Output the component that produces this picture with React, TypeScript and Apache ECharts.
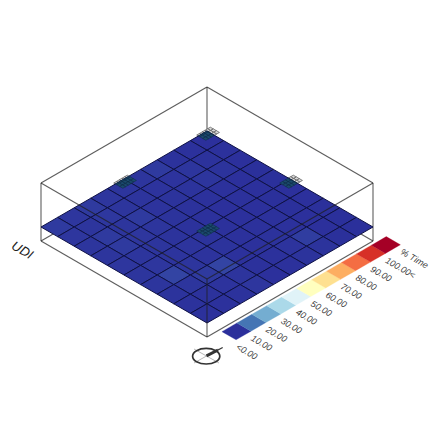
import React, { useEffect, useRef } from "react";
import * as echarts from "echarts";

// Plane results, % Time: rows run along j, columns along i (10 x 10 analysis grid)
const planeValues: number[][] = [
  [0.2, 0.3, 0.2, 0.1, 0.1, 0.2, 0.2, 0.1, 0.1, 0.1],
  [0.3, 0.4, 0.5, 0.2, 0.2, 0.1, 0.1, 0.2, 0.2, 0.1],
  [0.4, 0.9, 0.8, 0.3, 0.3, 0.2, 0.3, 0.3, 2.0, 0.5],
  [1.5, 0.6, 0.5, 0.3, 0.2, 0.2, 0.3, 0.4, 0.6, 0.5],
  [0.8, 0.6, 0.5, 0.4, 0.3, 0.3, 0.3, 0.3, 0.3, 0.3],
  [0.8, 0.7, 0.6, 0.5, 0.4, 0.5, 0.5, 0.3, 0.3, 0.2],
  [1.0, 0.9, 1.5, 0.8, 0.5, 0.7, 0.6, 3.0, 0.7, 1.0],
  [1.5, 1.2, 0.8, 1.0, 0.8, 0.7, 0.8, 1.5, 0.6, 0.4],
  [1.0, 0.9, 1.5, 1.5, 0.8, 1.0, 3.0, 0.9, 0.4, 0.3],
  [1.5, 1.0, 0.9, 0.8, 1.0, 0.9, 0.8, 0.5, 0.4, 0.3],
];
const colorStops = ["#2b2f9b", "#4575b4", "#74add1", "#abd9e9", "#e0f3f8", "#ffffbf", "#fee090", "#fdae61", "#f46d43", "#d73027", "#a50026"];
const legendValues = [0, 10, 20, 30, 40, 50, 60, 70, 80, 90, 100];
const legendLabels = ["<0.00", "10.00", "20.00", "30.00", "40.00", "50.00", "60.00", "70.00", "80.00", "90.00", "100.00<", "% Time"];
const sensors: number[][] = [[0, 0], [5, 0], [0, 5], [5, 5]];
const BOT = -1.46;
const TOP = 4.58;
const backEdges: number[][] = [
  [0, 0, BOT, 10, 0, BOT], [0, 0, BOT, 0, 10, BOT], [0, 0, BOT, 0, 0, TOP],
  [0, 10, BOT, 0, 10, TOP], [10, 0, BOT, 10, 0, TOP],
  [0, 0, TOP, 10, 0, TOP], [0, 0, TOP, 0, 10, TOP],
];
const frontEdges: number[][] = [
  [0, 10, TOP, 10, 10, TOP], [10, 0, TOP, 10, 10, TOP],
  [0, 10, BOT, 10, 10, BOT], [10, 0, BOT, 10, 10, BOT], [10, 10, BOT, 10, 10, TOP],
];

const cellData: number[][] = [];
planeValues.forEach((row, j) => row.forEach((v, i) => cellData.push([i, j, v])));
const legendData = legendValues.map((v, k) => [k, 0, v]);
const labelData = legendLabels.map((_, k) => [k]);

const LINE = "rgba(30,30,30,0.72)";
const project = (api: any, i: number, j: number, z = 0) => api.coord([i - j, i + j - z]);
const quad = (api: any, i0: number, i1: number, j0: number, j1: number) => [
  project(api, i0, j0), project(api, i1, j0), project(api, i1, j1), project(api, i0, j1),
];

const edgeRender = (_: any, api: any) => {
  const a = project(api, api.value(0), api.value(1), api.value(2));
  const b = project(api, api.value(3), api.value(4), api.value(5));
  return { type: "line", shape: { x1: a[0], y1: a[1], x2: b[0], y2: b[1] }, style: { stroke: LINE, lineWidth: 1.1, fill: null } };
};

const sensorRender = (front: boolean) => (_: any, api: any) => {
  const ci = api.value(0);
  const cj = api.value(1);
  const children: any[] = [];
  const NI = 3;
  const NJ = 5;
  const i0 = ci - 0.1, iw = 0.55 / NI, j0 = cj - 0.3, jw = 0.82 / NJ;
  for (let a = 0; a < NI; a++) {
    for (let b = 0; b < NJ; b++) {
      let ia = i0 + a * iw, ib = ia + iw, ja = j0 + b * jw, jb = ja + jw;
      if (front) {
        ia = Math.max(ia, 0); ja = Math.max(ja, 0);
        if (ib <= ia || jb <= ja) continue;
      }
      children.push({
        type: "polygon",
        shape: { points: quad(api, ia, ib, ja, jb) },
        style: front
          ? { fill: "#1a4a6c", stroke: "#0e2a40", lineWidth: 0.5 }
          : { fill: "#d8d8d8", stroke: "#555555", lineWidth: 0.7 },
      });
    }
  }
  return { type: "group", children };
};

const option: any = {
  animation: false,
  backgroundColor: "#ffffff",
  grid: { left: 41, width: 332, top: 83, height: 288 },
  xAxis: { type: "value", min: -10, max: 10, show: false },
  yAxis: { type: "value", min: -5, max: 25, inverse: true, show: false },
  visualMap: {
    show: false, type: "continuous", min: 0, max: 100, dimension: 2, seriesIndex: [2, 5],
    inRange: { color: colorStops },
  },
  graphic: [
    { type: "text", x: 22.5, y: 250, rotation: -Math.PI / 6, style: { text: "UDI", fontFamily: "Liberation Sans", fontStyle: "italic", fontSize: 13, fill: "#222", textAlign: "center", verticalAlign: "middle" } },
    { type: "line", shape: { x1: 194, y1: 349, x2: 219, y2: 363 }, style: { stroke: "#999", lineWidth: 0.7 } },
    { type: "line", shape: { x1: 194, y1: 363, x2: 219, y2: 349 }, style: { stroke: "#999", lineWidth: 0.7 } },
    { type: "ellipse", shape: { cx: 206.2, cy: 356.2, rx: 13.6, ry: 7.8 }, style: { stroke: "#333", lineWidth: 1.7, fill: null } },
    { type: "line", shape: { x1: 206.5, y1: 355.8, x2: 218, y2: 350 }, style: { stroke: "#333", lineWidth: 3 } },
    { type: "line", shape: { x1: 218, y1: 350, x2: 222.7, y2: 347.5 }, style: { stroke: "#333", lineWidth: 1.4 } },
  ],
  series: [
    { type: "custom", z: 1, coordinateSystem: "cartesian2d", clip: false, silent: true, data: backEdges, renderItem: edgeRender },
    { type: "custom", z: 2, coordinateSystem: "cartesian2d", clip: false, silent: true, data: sensors, renderItem: sensorRender(false) },
    {
      type: "custom", z: 3, coordinateSystem: "cartesian2d", clip: false, silent: true, data: cellData,
      renderItem: (_: any, api: any) => {
        const i = api.value(0), j = api.value(1);
        return { type: "polygon", shape: { points: quad(api, i, i + 1, j, j + 1) }, style: { fill: api.visual("color"), stroke: "#0e1145", lineWidth: 1 } };
      },
    },
    { type: "custom", z: 4, coordinateSystem: "cartesian2d", clip: false, silent: true, data: sensors, renderItem: sensorRender(true) },
    { type: "custom", z: 5, coordinateSystem: "cartesian2d", clip: false, silent: true, data: frontEdges, renderItem: edgeRender },
    {
      type: "custom", z: 6, coordinateSystem: "cartesian2d", clip: false, silent: true, data: legendData,
      renderItem: (_: any, api: any) => {
        const k = api.value(0);
        const j1 = 10 - 0.9 * k;
        const col = api.visual("color");
        return { type: "polygon", shape: { points: quad(api, 10.9, 11.75, j1 - 0.9, j1) }, style: { fill: col, stroke: col, lineWidth: 0.3 } };
      },
    },
    {
      type: "custom", z: 6, coordinateSystem: "cartesian2d", clip: false, silent: true, data: labelData,
      renderItem: (_: any, api: any) => {
        const k = api.value(0);
        const p = project(api, 12.1, 10.3 - 0.9 * k);
        return {
          type: "text", x: p[0], y: p[1], rotation: -Math.PI / 6,
          style: { text: legendLabels[k], fontFamily: "Liberation Sans", fontStyle: "italic", fontSize: 9, fill: "#3a3a3a", textAlign: "left", verticalAlign: "middle" },
        };
      },
    },
  ],
};

export default function App() {
  const ref = useRef<HTMLDivElement>(null);
  useEffect(() => {
    const chart = echarts.init(ref.current!, undefined, { renderer: "svg" });
    chart.setOption(option);
    return () => chart.dispose();
  }, []);
  return <div ref={ref} style={{ position: "fixed", left: 0, top: 0, width: 440, height: 440 }} />;
}
